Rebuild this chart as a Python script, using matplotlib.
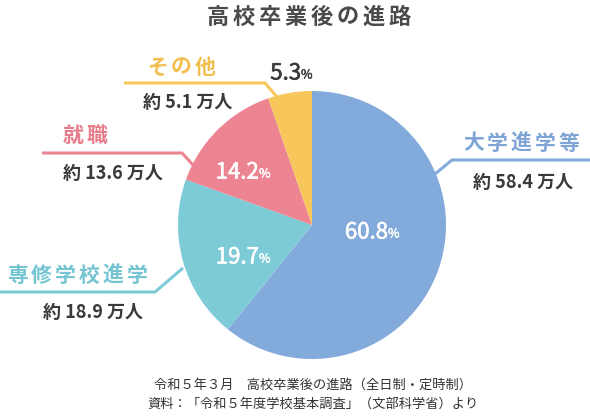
import matplotlib
matplotlib.use("Agg")
import matplotlib.pyplot as plt
import matplotlib.patheffects as pe

plt.rcParams['font.family'] = ['Noto Sans CJK JP', 'DejaVu Sans']

title = "高校卒業後の進路"
categories = ["大学進学等", "専修学校進学", "就職", "その他"]
shares = [60.8, 19.7, 14.2, 5.3]
counts = ["約 58.4 万人", "約 18.9 万人", "約 13.6 万人", "約 5.1 万人"]
pct_labels = ["60.8", "19.7", "14.2", "5.3"]
footer = ["令和５年３月　高校卒業後の進路（全日制・定時制）",
          "資料：「令和５年度学校基本調査」（文部科学省）より"]

colors = ["#82aadb", "#7ecbd8", "#ec8492", "#f7c75b"]
label_colors = ["#7fa5d6", "#74c4d2", "#e67d8b", "#f2bf4e"]
dark = "#3a3a3a"

W, H = 590, 417
fig = plt.figure(figsize=(W / 100, H / 100), dpi=100)
ax = fig.add_axes([0, 0, 1, 1])

def Y(y):
    return H - y

cx, cy, r = 312, 225, 134
ax.pie(shares, colors=colors, startangle=90, counterclock=False,
       center=(cx, Y(cy)), radius=r, wedgeprops=dict(linewidth=0),
       frame=True)
ax.set_xlim(0, W)
ax.set_ylim(0, H)
ax.set_aspect('equal')
ax.axis('off')

def spaced(x_left, y, s, size, pitch, color, weight='bold'):
    em = size * 100 / 72
    for i, ch in enumerate(s):
        ax.text(x_left + em / 2 + i * pitch, Y(y), ch, fontsize=size,
                color=color, weight=weight, ha='center', va='center')

# title
spaced(207, 17, title, 16, 25.9, "#4a4a4a")

# category label layout: (text left, text y, count left, count y, line points)
layout = [
    (463, 143, 473, 182, [(435, 174), (452, 160), (590, 160)]),
    (7, 275, 43, 312, [(183, 268), (155, 292), (0, 292)]),
    (63, 135, 63, 173, [(193, 165), (182, 153), (42, 153)]),
    (147, 67, 143, 102, [(277, 97), (265, 83), (124, 83)]),
]
for i, (tx, ty, nx, ny, pts) in enumerate(layout):
    spaced(tx, ty, categories[i], 15, 24, label_colors[i])
    ax.text(nx, Y(ny), counts[i], fontsize=13, color=dark, weight='bold',
            ha='left', va='center')
    xs = [p[0] for p in pts]
    ys = [Y(p[1]) for p in pts]
    ax.plot(xs, ys, color=colors[i], lw=2.2, solid_capstyle='butt',
            solid_joinstyle='miter')

# percentage labels (split point between number and % sign)
pct_pos = [(388, 232, "white"), (259, 257, "white"), (259, 172, "white"), (301, 73, dark)]
for lab, (sx, sy, c) in zip(pct_labels, pct_pos):
    ax.text(sx, Y(sy), lab, fontsize=16, color=c, ha='right', va='center',
            path_effects=[pe.withStroke(linewidth=0.45, foreground=c)])
    ax.text(sx, Y(sy + 2), "%", fontsize=9, color=c, ha='left', va='center',
            path_effects=[pe.withStroke(linewidth=0.3, foreground=c)])

# footer
ax.text(313, Y(385), footer[0], fontsize=9.5, color="#333333", ha='center', va='center')
ax.text(313, Y(404), footer[1], fontsize=9.5, color="#333333", ha='center', va='center')

fig.savefig("out.png", dpi=100, facecolor="white")
